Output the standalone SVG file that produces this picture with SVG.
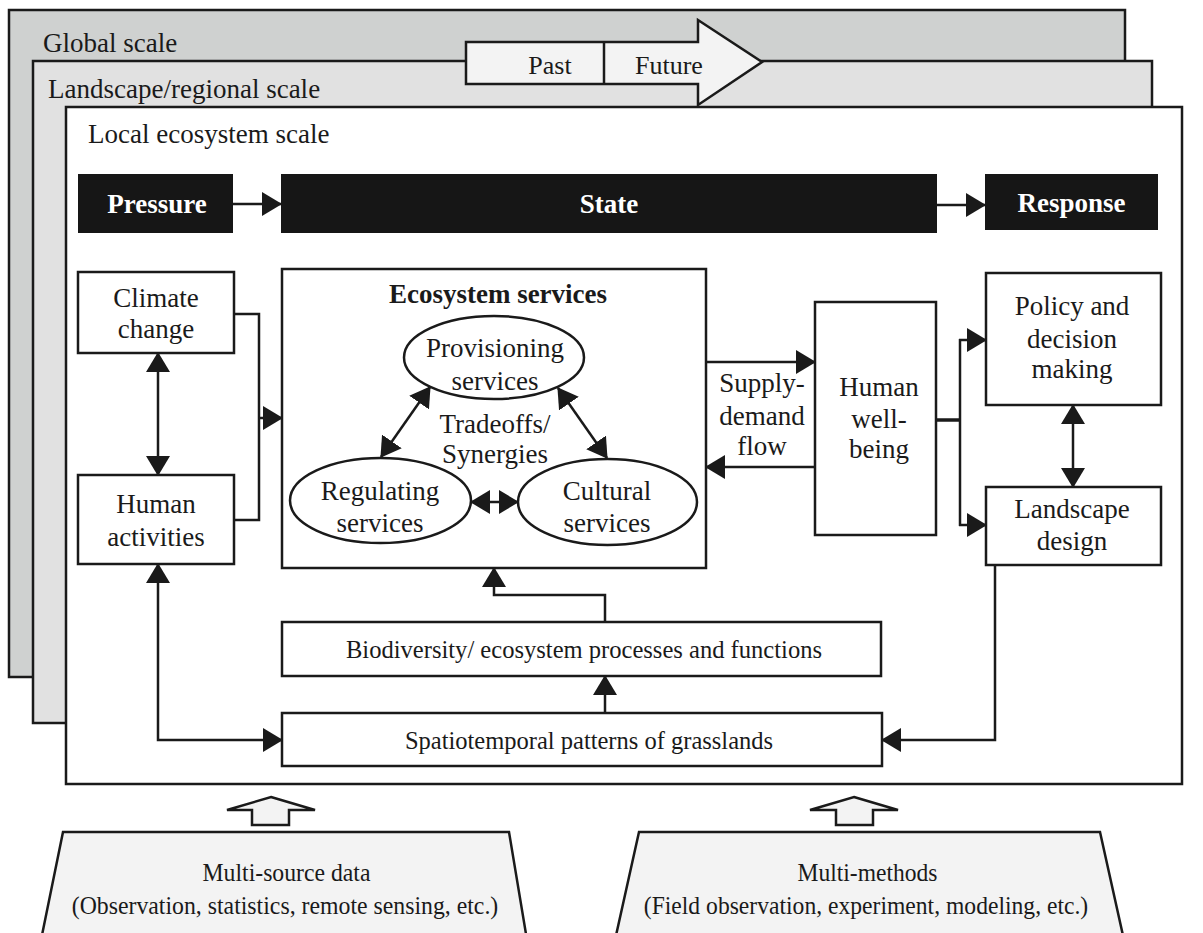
<svg xmlns="http://www.w3.org/2000/svg" width="1203" height="933" viewBox="0 0 1203 933">
<defs>
<style>
text{font-family:"Liberation Serif","Times New Roman",serif;font-size:27px;fill:#1a1a1a}
.c{text-anchor:middle}
.b{font-weight:bold}
.w{fill:#ffffff}
.s26{font-size:26px}
.box{fill:#ffffff;stroke:#1a1a1a;stroke-width:2.5}
.bar{fill:#161616}
.ln{fill:none;stroke:#1a1a1a;stroke-width:2.5}
.lt{fill:#f3f3f3;stroke:#1a1a1a;stroke-width:2.5}
</style>
<marker id="ah" viewBox="0 0 20 24" refX="19" refY="12" markerWidth="20" markerHeight="24" markerUnits="userSpaceOnUse" orient="auto-start-reverse">
<path d="M0,0 L20,12 L0,24 Z" fill="#1a1a1a"/>
</marker>
</defs>

<g id="scale-global">
<rect x="9" y="10" width="1116" height="667" fill="#cfd1d0" stroke="#1a1a1a" stroke-width="2.5"/>
<text x="43" y="52">Global scale</text>
</g>
<g id="scale-landscape">
<rect x="33" y="61" width="1119" height="662" fill="#e1e1e1" stroke="#1a1a1a" stroke-width="2.5"/>
<text x="48" y="98">Landscape/regional scale</text>
</g>
<g id="past-future">
<path class="lt" d="M466,42 L698,42 L698,20 L762,62 L698,105 L698,84 L466,84 Z"/>
<line class="ln" x1="604" y1="42" x2="604" y2="85"/>
<text class="c s26" x="550" y="74">Past</text>
<text class="s26" x="635" y="74">Future</text>
</g>
<g id="scale-local">
<rect x="66" y="107" width="1116" height="677" fill="#ffffff" stroke="#1a1a1a" stroke-width="2.5"/>
<text x="88" y="143">Local ecosystem scale</text>
</g>

<g id="pressure"><rect class="bar" x="78" y="174" width="155" height="59"/><text class="c b w" x="157" y="213">Pressure</text></g>
<g id="state"><rect class="bar" x="281" y="174" width="656" height="59"/><text class="c b w" x="609" y="213">State</text></g>
<g id="response"><rect class="bar" x="985" y="174" width="173" height="56"/><text class="c b w" x="1071.5" y="212">Response</text></g>

<g id="climate-change"><rect class="box" x="78" y="272" width="156" height="81"/><text class="c" x="156" y="307">Climate</text><text class="c" x="156" y="338">change</text></g>
<g id="human-activities"><rect class="box" x="78" y="475" width="156" height="89"/><text class="c" x="156" y="513">Human</text><text class="c" x="156" y="546">activities</text></g>

<g id="ecosystem-services">
<rect class="box" x="282" y="269" width="424" height="299"/>
<text class="c b" x="498" y="303">Ecosystem services</text>
<text class="c" x="495" y="433">Tradeoffs/</text>
<text class="c" x="495" y="463">Synergies</text>
</g>
<g id="provisioning"><ellipse class="box" cx="494" cy="357.5" rx="90" ry="41.5"/><text class="c" x="495" y="357">Provisioning</text><text class="c" x="495" y="390">services</text></g>
<g id="regulating"><ellipse class="box" cx="380.5" cy="500.5" rx="90.5" ry="42.5"/><text class="c" x="380" y="500">Regulating</text><text class="c" x="380" y="532">services</text></g>
<g id="cultural"><ellipse class="box" cx="607.5" cy="502" rx="89.5" ry="43"/><text class="c" x="607" y="500">Cultural</text><text class="c" x="607" y="532">services</text></g>

<g id="human-wellbeing"><rect class="box" x="815" y="302" width="121" height="233"/><text class="c" x="879" y="396">Human</text><text class="c" x="879" y="428">well-</text><text class="c" x="879" y="458">being</text></g>
<g id="supply-demand-label"><text class="c" x="762" y="392">Supply-</text><text class="c" x="762" y="425">demand</text><text class="c" x="762" y="455">flow</text></g>

<g id="policy"><rect class="box" x="986" y="273" width="175" height="132"/><text class="c" x="1072" y="315">Policy and</text><text class="c" x="1072" y="348">decision</text><text class="c" x="1072" y="378">making</text></g>
<g id="landscape-design"><rect class="box" x="986" y="487" width="175" height="78"/><text class="c" x="1072" y="518">Landscape</text><text class="c" x="1072" y="550">design</text></g>

<g id="biodiversity"><rect class="box" x="282" y="622" width="599" height="54"/><text class="c s26" transform="translate(584,658) scale(0.945,1)" x="0" y="0">Biodiversity/ ecosystem processes and functions</text></g>
<g id="spatiotemporal"><rect class="box" x="282" y="713" width="600" height="53"/><text class="c s26" transform="translate(589,749) scale(0.943,1)" x="0" y="0">Spatiotemporal patterns of grasslands</text></g>

<g id="multi-source">
<path fill="#f3f3f3" stroke="#1a1a1a" stroke-width="2.5" d="M41,940 L63,832 L509,832 L527,940"/>
<text class="c s26" transform="translate(286.5,881) scale(0.913,1)" x="0" y="0">Multi-source data</text>
<text class="c s26" transform="translate(285,914) scale(0.915,1)" x="0" y="0">(Observation, statistics, remote sensing, etc.)</text>
</g>
<g id="multi-methods">
<path fill="#f3f3f3" stroke="#1a1a1a" stroke-width="2.5" d="M615,940 L639,832 L1100,832 L1124,940"/>
<text class="c s26" transform="translate(867.5,881) scale(0.905,1)" x="0" y="0">Multi-methods</text>
<text class="c s26" transform="translate(866,914) scale(0.908,1)" x="0" y="0">(Field observation, experiment, modeling, etc.)</text>
</g>

<g id="connectors">
<line class="ln" x1="233" y1="204" x2="281" y2="204" marker-end="url(#ah)"/>
<line class="ln" x1="937" y1="205" x2="985" y2="205" marker-end="url(#ah)"/>
<line class="ln" x1="158" y1="353" x2="158" y2="475" marker-start="url(#ah)" marker-end="url(#ah)"/>
<polyline class="ln" points="234,314 259,314 259,520 234,520"/>
<line class="ln" x1="259" y1="418" x2="282" y2="418" marker-end="url(#ah)"/>
<line class="ln" x1="430" y1="387" x2="381" y2="457" marker-start="url(#ah)" marker-end="url(#ah)"/>
<line class="ln" x1="558" y1="388" x2="607" y2="458" marker-start="url(#ah)" marker-end="url(#ah)"/>
<line class="ln" x1="471" y1="502" x2="518" y2="502" marker-start="url(#ah)" marker-end="url(#ah)"/>
<line class="ln" x1="705" y1="362" x2="815" y2="362" marker-end="url(#ah)"/>
<line class="ln" x1="815" y1="467" x2="706" y2="467" marker-end="url(#ah)"/>
<line fill="none" stroke="#1a1a1a" stroke-width="3.5" x1="936" y1="420" x2="961" y2="420"/>
<line class="ln" x1="960" y1="339" x2="960" y2="526"/>
<line class="ln" x1="959" y1="340" x2="986" y2="340" marker-end="url(#ah)"/>
<line class="ln" x1="959" y1="525" x2="986" y2="525" marker-end="url(#ah)"/>
<line class="ln" x1="1073" y1="405" x2="1073" y2="487" marker-start="url(#ah)" marker-end="url(#ah)"/>
<polyline class="ln" points="995,565 995,740 882,740" marker-end="url(#ah)"/>
<polyline class="ln" points="158,564 158,740 282,740" marker-start="url(#ah)" marker-end="url(#ah)"/>
<polyline class="ln" points="605,622 605,595 494,595 494,568" marker-end="url(#ah)"/>
<line class="ln" x1="605" y1="713" x2="605" y2="676" marker-end="url(#ah)"/>
<path class="lt" d="M271,797 L315,810 L289,810 L289,825 L252,825 L252,810 L227,810 Z"/>
<path class="lt" d="M854,797 L898,810 L873,810 L873,825 L836,825 L836,810 L810,810 Z"/>
</g>
</svg>
